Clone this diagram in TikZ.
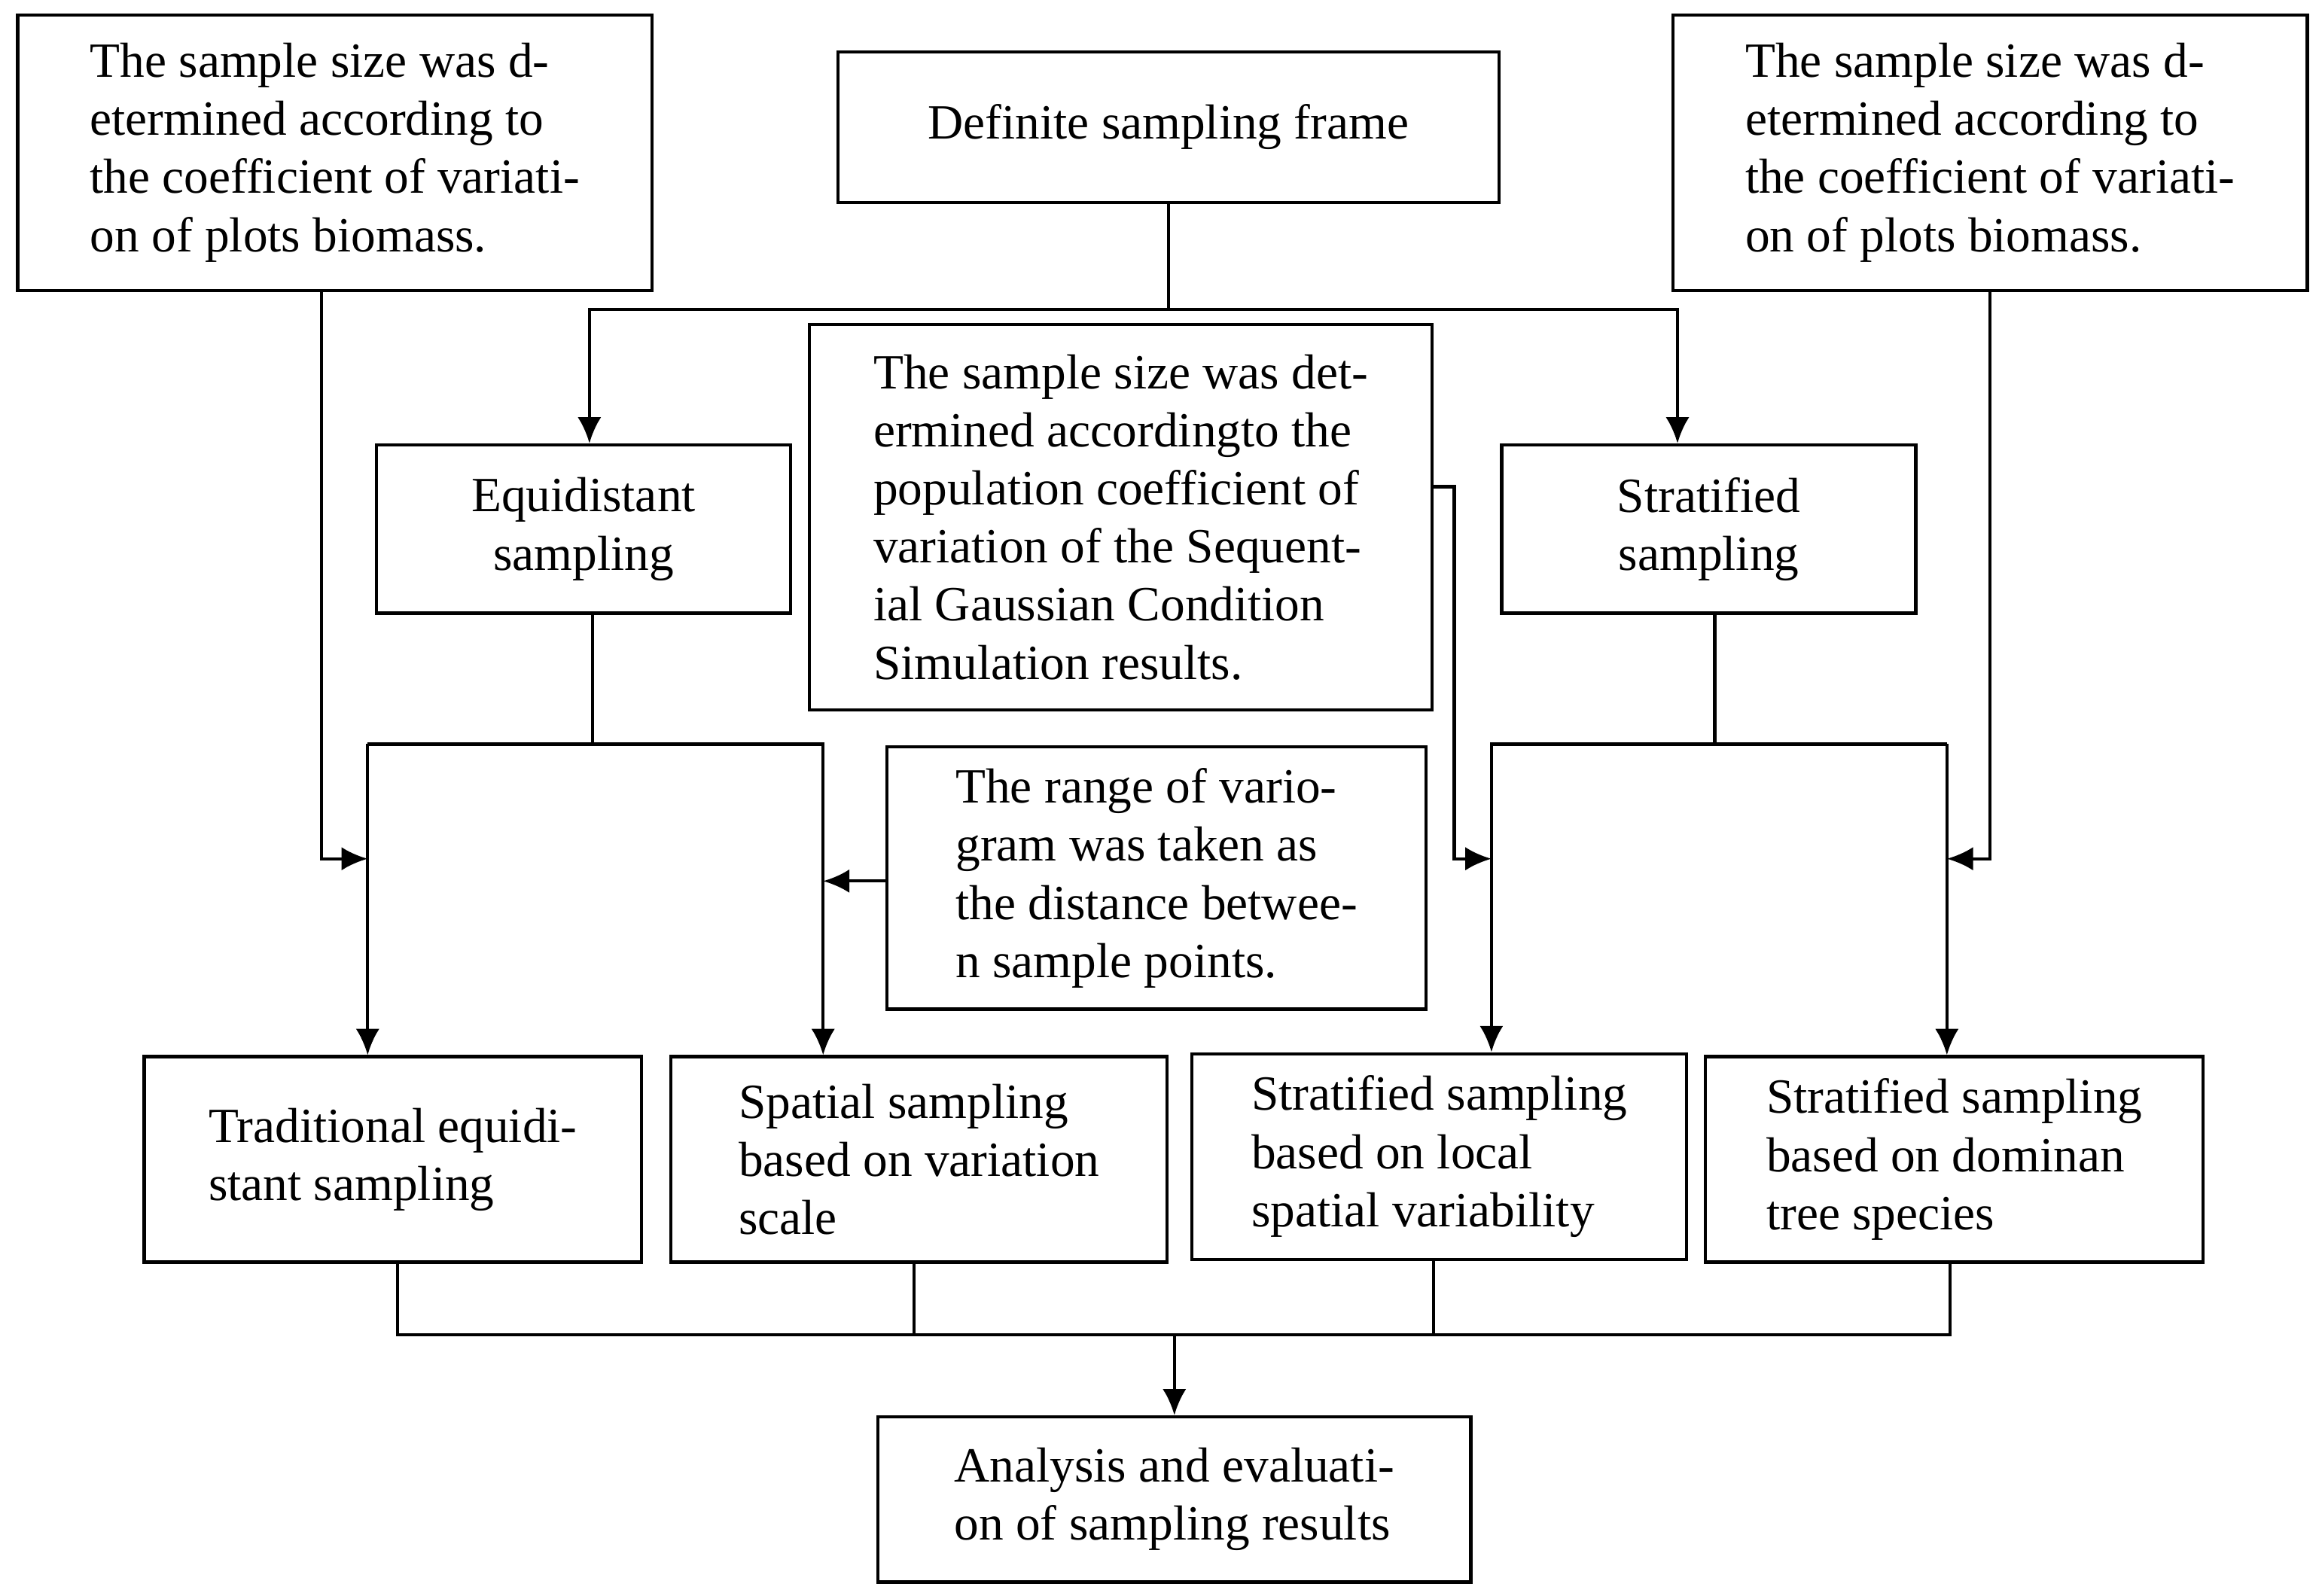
\documentclass[tikz,border=0pt]{standalone}
\usepackage{fontspec}
\setmainfont{Liberation Serif}
\usetikzlibrary{arrows.meta}
\begin{document}
\begin{tikzpicture}[x=0.01cm,y=-0.01cm,
  box/.style={draw,line width=0.6pt,inner sep=0pt,font=\fontsize{9.4}{11.1}\selectfont},
  ln/.style={line width=0.6pt},
  ar/.style={line width=0.6pt,-{Latex[length=5pt,width=4.5pt]}}]
\useasboundingbox (0,0) rectangle (1560,1072);
\node[box,minimum width=4.26cm,minimum height=1.85cm,align=left] (TL) at (225,102.5) {The sample size was d-\\etermined according to\\the coefficient of variati-\\on of plots biomass.};
\node[box,minimum width=4.44cm,minimum height=1.01cm] (top) at (785,85.5) {Definite sampling frame};
\node[box,minimum width=4.26cm,minimum height=1.85cm,align=left] (TR) at (1337,102.5) {The sample size was d-\\etermined according to\\the coefficient of variati-\\on of plots biomass.};
\node[box,minimum width=2.78cm,minimum height=1.13cm,align=center] (eq) at (392,355.5) {Equidistant\\sampling};
\node[box,minimum width=4.18cm,minimum height=2.59cm,align=left] (mid) at (753,347.5) {The sample size was det-\\ermined accordingto the\\population coefficient of\\variation of the Sequent-\\ial Gaussian Condition\\Simulation results.};
\node[box,minimum width=2.78cm,minimum height=1.13cm,align=center] (st) at (1148,355.5) {Stratified\\sampling};
\node[box,minimum width=3.62cm,minimum height=1.76cm,align=left] (rg) at (777,590) {The range of vario-\\gram was taken as\\the distance betwee-\\n sample points.};
\node[box,minimum width=3.34cm,minimum height=1.38cm,align=left] (b1) at (264,779) {Traditional equidi-\\stant sampling};
\node[box,minimum width=3.33cm,minimum height=1.38cm,align=left] (b2) at (617.5,779) {Spatial sampling\\based on variation\\scale};
\node[box,minimum width=3.32cm,minimum height=1.38cm,align=left] (b3) at (967,777) {Stratified sampling\\based on local\\spatial variability};
\node[box,minimum width=3.34cm,minimum height=1.38cm,align=left] (b4) at (1313,779) {Stratified sampling\\based on dominan\\tree species};
\node[box,minimum width=3.98cm,minimum height=1.11cm,align=left] (an) at (789,1007.5) {Analysis and evaluati-\\on of sampling results};
% junction coordinates
\coordinate (j0) at (785,208);
\coordinate (jeL) at (396,208);
\coordinate (jeR) at (1127,208);
\coordinate (e0) at (398,500);
\coordinate (eL) at (247,500);
\coordinate (eR) at (553,500);
\coordinate (s0) at (1152,500);
\coordinate (sL) at (1002,500);
\coordinate (sR) at (1308,500);
\coordinate (tl) at (216,577);
\coordinate (tr) at (1337,577);
\coordinate (m1) at (977,327);
\coordinate (m2) at (977,577);
\coordinate (rr) at (553,592);
\coordinate (bb) at (789,897);
% top split
\draw[ln] (top.south) -- (j0);
\draw[ar] (j0) -- (jeL) -- (eq.north -| jeL);
\draw[ar] (j0) -- (jeR) -- (st.north -| jeR);
% equidistant branch
\draw[ln] (eq.south -| e0) -- (e0) -- (eL);
\draw[ar] (eL) -- (b1.north -| eL);
\draw[ar] (e0) -- (eR) -- (b2.north -| eR);
\draw[ar] (TL.south -| tl) -- (tl) -- (tl -| eL);
\draw[ar] (rg.west |- rr) -- (rr);
% stratified branch
\draw[ln] (st.south -| s0) -- (s0) -- (sR);
\draw[ar] (s0) -- (sL) -- (b3.north -| sL);
\draw[ar] (sR) -- (b4.north -| sR);
\draw[ar] (mid.east |- m1) -- (m1) -- (m2) -- (m2 -| sL);
\draw[ar] (TR.south -| tr) -- (tr) -- (tr -| sR);
% bottom merge
\draw[ln] (b1.south -| 267,0) -- (267,897) -- (1310,897) -- (b4.south -| 1310,0);
\draw[ln] (b2.south -| 614,0) -- (614,897);
\draw[ln] (b3.south -| 963,0) -- (963,897);
\draw[ar] (bb) -- (an.north);
\end{tikzpicture}
\end{document}
